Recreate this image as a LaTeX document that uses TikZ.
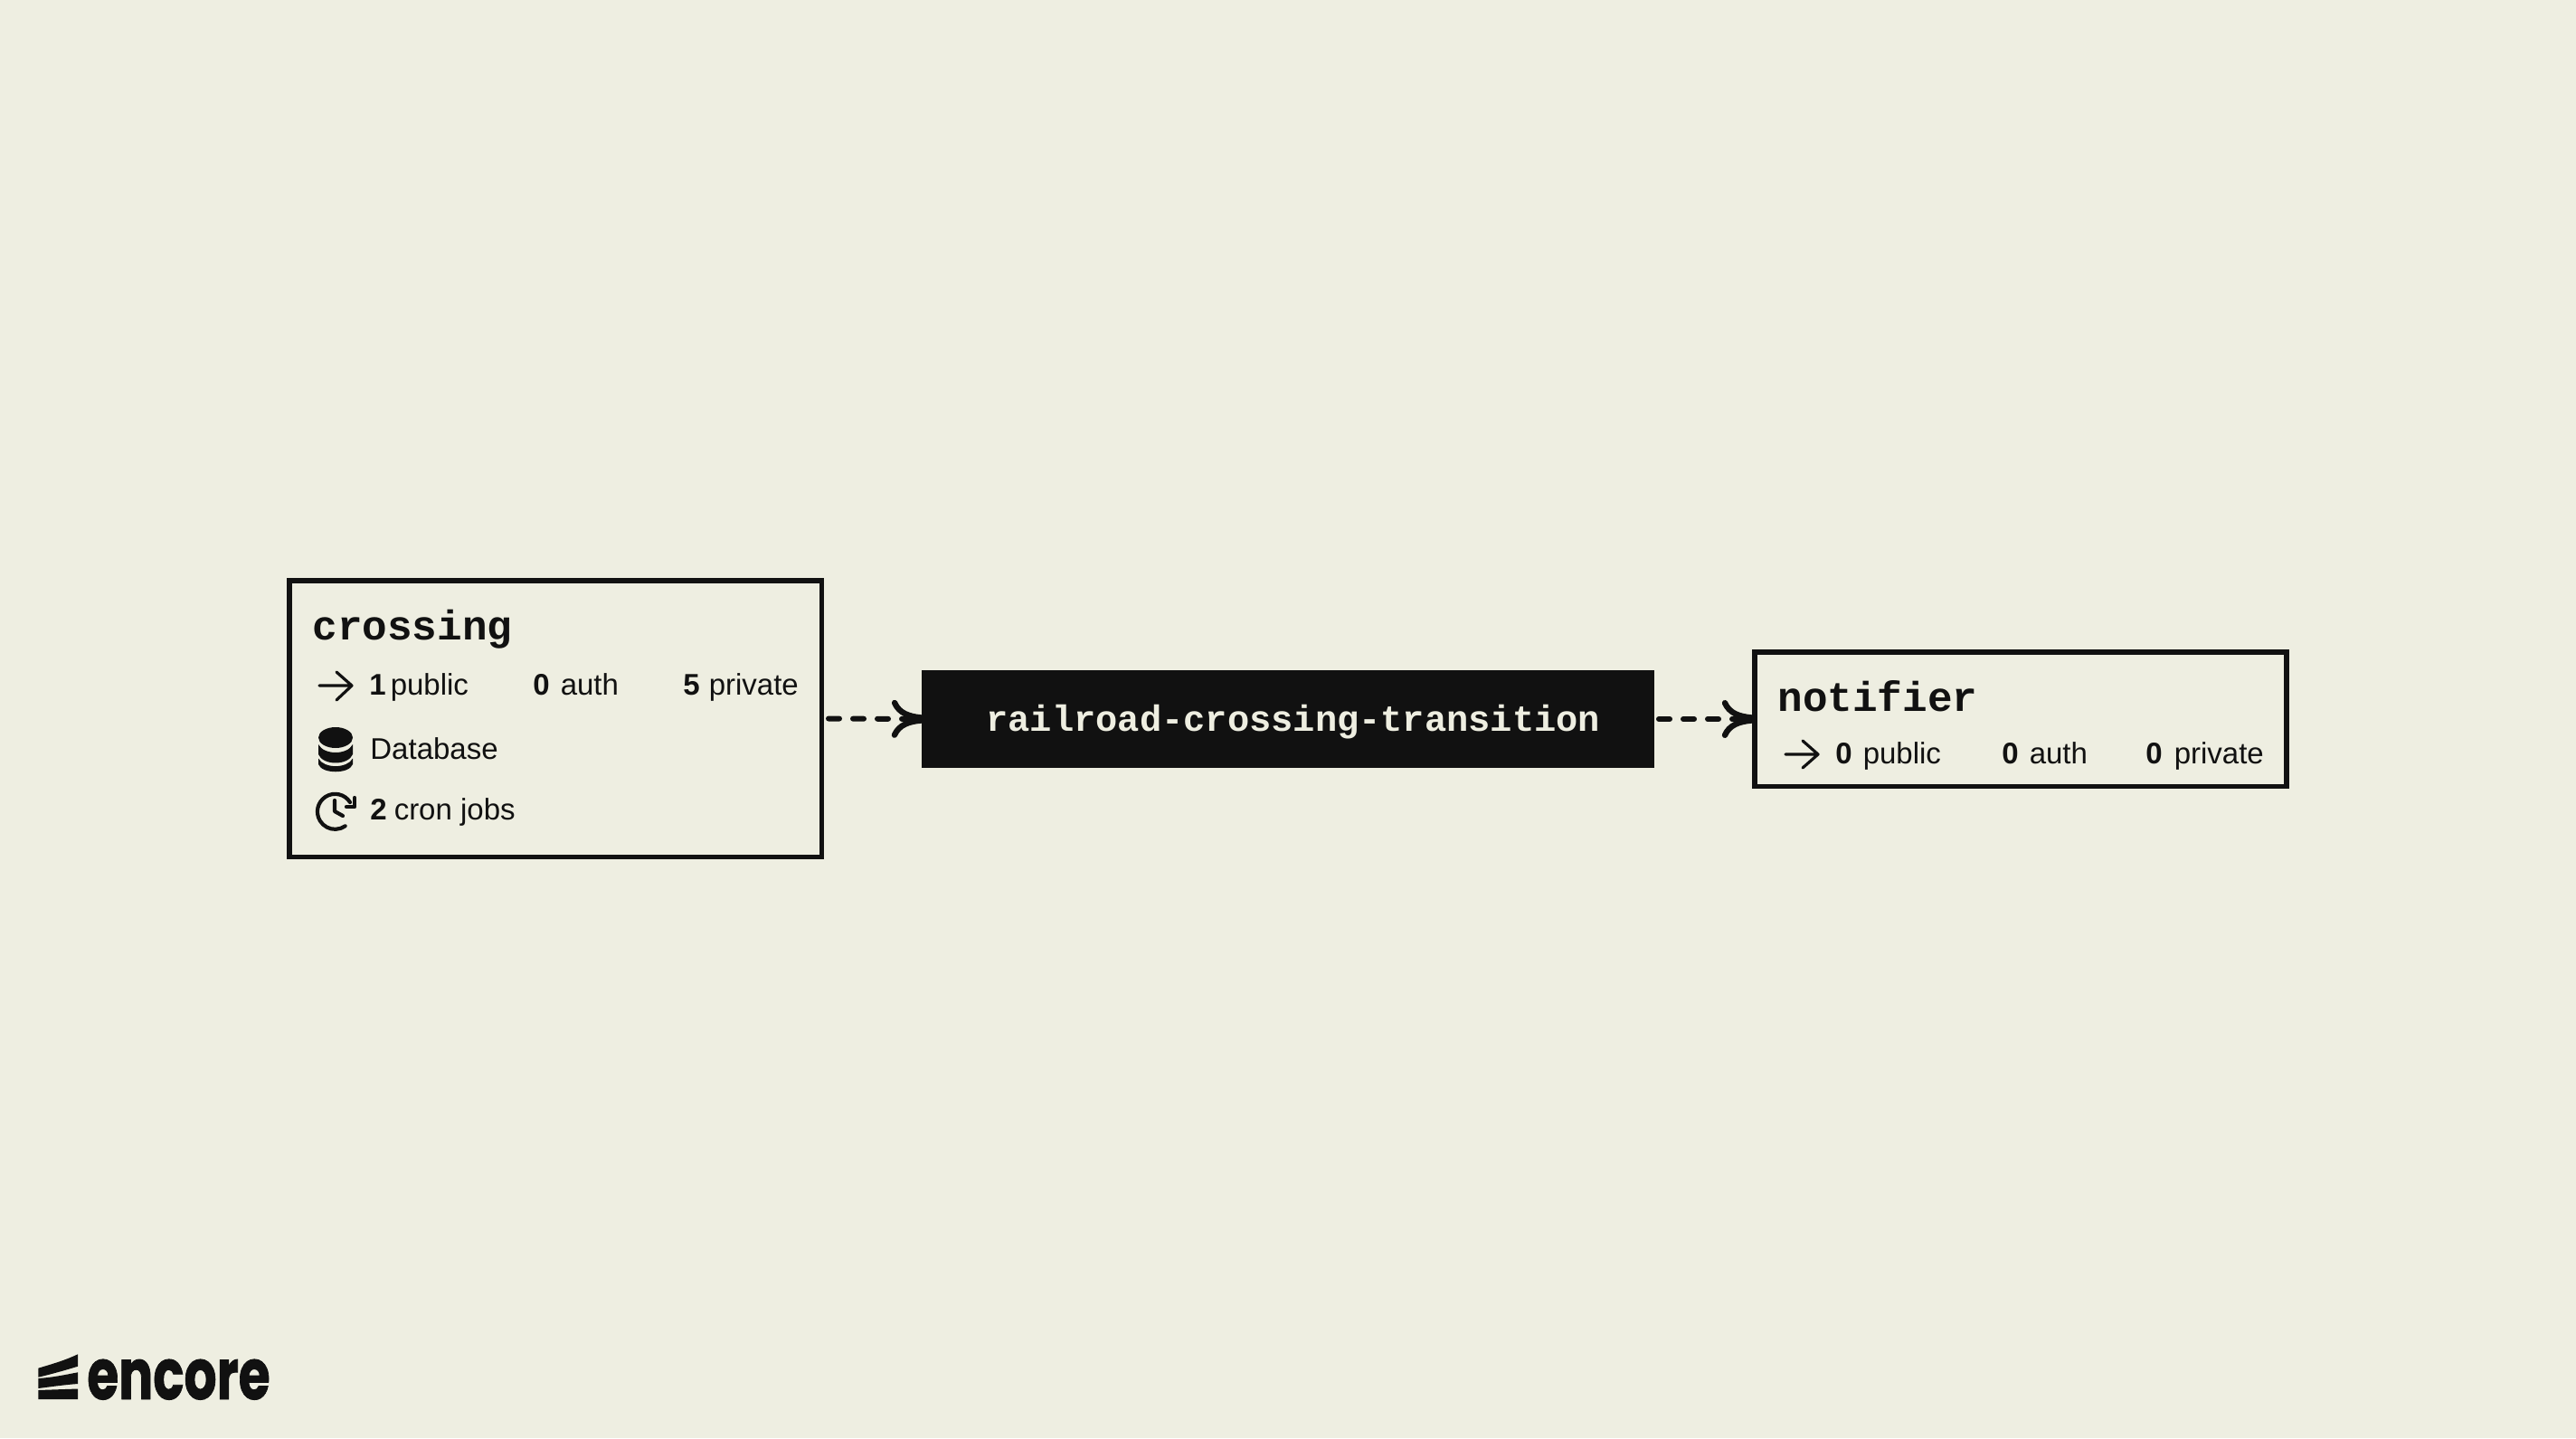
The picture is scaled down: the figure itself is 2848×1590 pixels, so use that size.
\documentclass[tikz,border=0pt]{standalone}
\usepackage{fontspec}
\usetikzlibrary{arrows.meta}
\setmainfont{Liberation Sans}
\newfontfamily\monof{Liberation Mono}
\newfontfamily\logof[BoldFeatures={FakeBold=1.2}]{Poppins}
\definecolor{bgc}{HTML}{EEEEE1}
\definecolor{inkc}{HTML}{111111}
\pgfdeclarearrow{
  name=wing,
  setup code={
    \pgfarrowssettipend{0pt}
    \pgfarrowssetlineend{-2pt}
    \pgfarrowssetbackend{-16pt}
    \pgfarrowssetvisualbackend{-2pt}
  },
  drawing code={
    \pgfsetdash{}{0pt}
    \pgfsetlinewidth{3.2pt}
    \pgfsetroundcap
    \pgfpathmoveto{\pgfqpoint{-15pt}{8.9pt}}
    \pgfpathcurveto{\pgfqpoint{-12.5pt}{3.2pt}}{\pgfqpoint{-7pt}{1.4pt}}{\pgfqpoint{-0.5pt}{0.8pt}}
    \pgfpathmoveto{\pgfqpoint{-15pt}{-8.9pt}}
    \pgfpathcurveto{\pgfqpoint{-12.5pt}{-3.2pt}}{\pgfqpoint{-7pt}{-1.4pt}}{\pgfqpoint{-0.5pt}{-0.8pt}}
    \pgfusepathqstroke
  },
  defaults={}
}
\tikzset{
  x=0.5pt,y=-0.5pt,
  svcbox/.style={draw=inkc,line width=2.75pt,fill=bgc,inner sep=0pt},
  topicbox/.style={fill=inkc,draw=none,outer sep=0pt,inner sep=0pt},
  conn/.style={draw=inkc,line width=3pt,line cap=round,dash pattern=on 6pt off 7.5pt,-{wing},shorten <=2.5pt},
  title/.style={anchor=base west,inner sep=0pt,text=inkc,font=\monof\bfseries\fontsize{23}{26}\selectfont},
  topictext/.style={anchor=base west,inner sep=0pt,text=bgc,font=\monof\bfseries\fontsize{20.2}{24}\selectfont},
  stat/.style={anchor=base west,inner sep=0pt,text=inkc,font=\fontsize{16.5}{20}\selectfont},
  iconline/.style={draw=inkc,line width=1.6pt,line cap=round,line join=round},
  iconfill/.style={fill=inkc,draw=none},
}
\begin{document}
\begin{tikzpicture}
\fill[bgc] (0,0) rectangle (2848,1590);
\useasboundingbox (0,0) rectangle (2848,1590);

% boxes
\node[svcbox,minimum width=294.25pt,minimum height=152.75pt] (crossing) at (614,794.5) {};
\node[topicbox,minimum width=405pt,minimum height=54pt] (topic) at (1424,795) {};
\node[svcbox,minimum width=294pt,minimum height=74.25pt] (notifier) at (2233.75,795) {};

% connectors
\draw[conn] (crossing.east) -- (topic.west);
\draw[conn] (topic.east) -- (notifier.west);

% crossing texts
\node[title] (crossingtitle) at (345,707) {crossing};
\node[stat] (c1) at (408,768) {\textbf{1}\kern2.5pt public};
\node[stat] (c2) at (589,768) {\textbf{0}\kern6pt auth};
\node[stat] (c3) at (755,768) {\textbf{5}\kern5pt private};
\node[stat] (c4) at (409,839) {Database};
\node[stat] (c5) at (409,906) {\textbf{2}\kern4pt cron jobs};

% notifier texts
\node[title] (notifiertitle) at (1965,786) {notifier};
\node[stat] (n1) at (2029,844) {\textbf{0}\kern6pt public};
\node[stat] (n2) at (2213,844) {\textbf{0}\kern6pt auth};
\node[stat] (n3) at (2372,844) {\textbf{0}\kern6.5pt private};

% topic text
\node[topictext] (topictitle) at (1090,808) {railroad-crossing-transition};

% arrow icons
\draw[iconline] (353,758) -- (389,758) (372,743) -- (389,758) -- (372,774);
\draw[iconline] (1974,834) -- (2010,834) (1993,819) -- (2010,834) -- (1993,849);

% database icon
\fill[iconfill] (371,815.5) ellipse [x radius=9.5pt,y radius=5.75pt];
\fill[iconfill] (352,823) .. controls (358,835) and (384,835) .. (390,823)
  -- (390,834) .. controls (385,846.6) and (357,846.6) .. (352,834) -- cycle;
\fill[iconfill] (352,838.5) .. controls (358,850) and (384,850) .. (390,838.5)
  -- (390,845) .. controls (386,856) and (356,856) .. (352,845) -- cycle;

% cron icon
\draw[iconline,line width=2.1pt] (387,887) arc[start angle=32,end angle=305,radius=9.75pt];
\draw[iconline,line width=2.1pt] (392,882) -- (392,892) -- (383,892);
\draw[iconline,line width=2.1pt] (370,885) -- (370,897) -- (379,902);

% logo
\fill[iconfill] (42.3,1512.7) .. controls (58,1508) and (72,1504) .. (86,1497.3) -- (86,1510.7) .. controls (72,1515) and (58,1519) .. (42.3,1522.7) -- cycle;
\fill[iconfill] (42.3,1524) .. controls (58,1523) and (72,1520) .. (86,1517.3) -- (86,1530) .. controls (72,1531) and (58,1533) .. (42.3,1535) -- cycle;
\fill[iconfill] (42.3,1537) -- (86,1535.5) -- (86,1547) -- (42.3,1547) -- cycle;
\node[anchor=base west,inner sep=0pt,text=inkc,font=\logof\bfseries\fontsize{39}{40}\selectfont] (logo) at (96,1547) {\scalebox{0.725}[1]{encore}};
\end{tikzpicture}
\end{document}
